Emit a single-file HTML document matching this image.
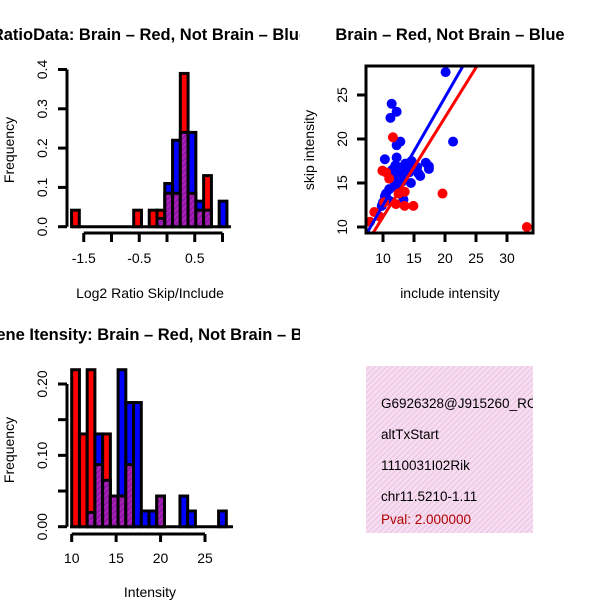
<!DOCTYPE html>
<html><head><meta charset="utf-8"><style>
html,body{margin:0;padding:0;background:#fff;}
svg{display:block;font-family:"Liberation Sans",Arial,sans-serif;}
</style></head><body>
<svg id="fig" width="600" height="600" viewBox="0 0 600 600">
<defs>
<pattern id="hatchP" width="4" height="4" patternUnits="userSpaceOnUse" patternTransform="rotate(45)">
<rect width="4" height="4" fill="#8a1a9e"/><rect width="2" height="4" fill="#b01ec0"/></pattern>
<pattern id="pinkP" width="4" height="4" patternUnits="userSpaceOnUse" patternTransform="rotate(45)">
<rect width="4" height="4" fill="#f8dcf2"/><rect width="1.2" height="4" fill="#e8c8e0"/></pattern>
<clipPath id="c1"><rect x="0" y="0" width="300" height="300"/></clipPath>
<clipPath id="c3"><rect x="0" y="300" width="300" height="300"/></clipPath>
<clipPath id="c4"><rect x="366" y="366" width="167" height="167"/></clipPath>
<clipPath id="c2"><rect x="366" y="66" width="167" height="167"/></clipPath>
</defs>
<g id="p1"></g>
<g id="p2"></g>
<g id="p3"></g>
<g id="p4">
<rect x="366" y="366" width="167" height="167" fill="url(#pinkP)"/>
<g clip-path="url(#c4)" font-size="13.5">
<text x="381" y="408">G6926328@J915260_RC</text>
<text x="381" y="439">altTxStart</text>
<text x="381" y="470">1110031I02Rik</text>
<text x="381" y="501">chr11.5210-1.11</text>
<text x="381" y="524" fill="#b00000">Pval: 2.000000</text>
</g></g>
</svg>
<script>
// ---- Histogram 1 data ----
const h1Lefts = [-1.72,-0.60,-0.32,-0.18,-0.04,0.10,0.24,0.38,0.52,0.66,0.94];
const h1Width = 0.14;
const h1Red  = [0.042,0.042,0.042,0.042,0.085,0.085,0.39,0.085,0.042,0.13,0];
const h1Blue = [0,0,0,0.021,0.11,0.22,0.24,0.24,0.065,0.042,0.065];
const h1XTicks = [-1.5,-1,-0.5,0,0.5,1];
const h1XLabels = ["-1.5","","-0.5","","0.5",""];
const h1YTicks = [0,0.1,0.2,0.3,0.4];
const h1YLabels = ["0.0","0.1","0.2","0.3","0.4"];
// ---- Scatter data ----
const scRedX = [33.2,19.6,11.6,9.9,14.9,13.5,13.5,12.1,8.6,7.9,9.4,10.2,12.5,10.5,11.0];
const scRedY = [10.0,13.8,20.2,16.4,12.4,12.4,14.0,12.6,11.7,10.6,11.2,12.8,13.8,16.2,15.5];
const scBlueX = [20.1,21.3,11.4,12.2,11.2,12.8,12.2,10.3,12.2,17.4,17.4,16.9,15.7,14.6,13.3,10.3,9.8,11.0,13.0,11.5,12.0,12.5,13.0,13.5,14.0,11.8,12.3,12.8,13.6,14.2,15.0,11.0,10.5,10.0,12.0,13.0,14.5,15.5,16.0,11.5,12.5];
const scBlueY = [27.6,19.7,24.0,23.1,22.4,19.7,19.3,17.7,17.9,16.9,16.6,17.3,16.1,17.5,13.1,13.5,12.4,14.3,15.1,15.5,16.0,16.8,16.3,17.0,16.5,15.2,14.8,15.8,17.2,16.2,17.0,13.0,13.8,12.8,17.0,15.5,15.0,16.8,15.8,16.5,14.2];
const scBlueLine = [0.22, 1.226];  // intercept, slope
const scRedLine = [-0.18, 1.132];
const scXTicks = [10,15,20,25,30];
const scYTicks = [10,15,20,25];
// ---- Histogram 2 data ----
const h2Start = 10, h2Width = 0.87;
const h2Red  = [0.22,0.13,0.22,0.087,0.13,0.043,0.043,0.087,0,0,0,0.043,0,0,0,0,0,0,0,0];
const h2Blue = [0,0,0.02,0.13,0.065,0.043,0.22,0.174,0.174,0.022,0.022,0.043,0,0,0.043,0.022,0,0,0,0.022];
const h2XTicks = [10,15,20,25];
const h2YTicks = [0,0.05,0.1,0.15,0.2];
const h2YLabels = ["0.00","","0.10","","0.20"];

const NS="http://www.w3.org/2000/svg";
const FS=14;
function mk(parent,tag,attrs){const e=document.createElementNS(NS,tag);for(const k in attrs)e.setAttribute(k,attrs[k]);parent.appendChild(e);return e;}
function txt(parent,x,y,s,attrs){const e=mk(parent,'text',Object.assign({x:x,y:y,'font-size':FS,'text-anchor':'middle'},attrs||{}));e.textContent=s;return e;}
function lin(a0,a1,p0,p1){return v=>p0+(v-a0)*(p1-p0)/(a1-a0);}

function histogram(g,lefts,width,red,blue,sx,sy,base){
  const lw=3;
  for(let i=0;i<lefts.length;i++){
    const x0=sx(lefts[i]),x1=sx(lefts[i]+width);
    const r=red[i],b=blue[i];
    if(r<=0&&b<=0){continue;}
    const hi=Math.max(r,b),lo=Math.min(r,b);
    const top=mk(g,'rect',{x:x0,y:sy(hi),width:x1-x0,height:base-sy(hi),fill:r>=b?'#ff0000':'#0000ff',stroke:'#000','stroke-width':lw});
    
    
    if(lo>0){
      const ov=mk(g,'rect',{x:x0,y:sy(lo),width:x1-x0,height:base-sy(lo),fill:'url(#hatchP)',stroke:'#000','stroke-width':lw});
      
      
    }
  }
}

// ---- Panel 1 ----
(function(){
  const g=document.getElementById('p1');
  const sx=lin(0,1,167,222.5), sy=lin(0,0.4,226.7,69.5), base=226.7;
  const bl=mk(g,'line',{x1:sx(h1Lefts[0]),y1:base,x2:sx(h1Lefts[h1Lefts.length-1]+h1Width)+4,y2:base,stroke:'#000','stroke-width':3});
  
  histogram(g,h1Lefts,h1Width,h1Red,h1Blue,sx,sy,base);
  const ax=mk(g,'g',{});
  
  mk(ax,'line',{x1:sx(h1XTicks[0]),y1:233,x2:sx(h1XTicks[h1XTicks.length-1]),y2:233,stroke:'#000','stroke-width':3});
  h1XTicks.forEach((t,i)=>{mk(ax,'line',{x1:sx(t),y1:233,x2:sx(t),y2:242,stroke:'#000','stroke-width':3});if(h1XLabels[i])txt(ax,sx(t),263,h1XLabels[i]);});
  const ay=mk(g,'g',{});
  
  mk(ay,'line',{x1:67,y1:sy(0),x2:67,y2:sy(0.4),stroke:'#000','stroke-width':3});
  h1YTicks.forEach((t,i)=>{mk(ay,'line',{x1:58,y1:sy(t),x2:67,y2:sy(t),stroke:'#000','stroke-width':3});txt(ay,0,0,h1YLabels[i],{transform:`translate(47,${sy(t)}) rotate(-90)`});});
  txt(g,150,298,'Log2 Ratio Skip/Include');
  txt(g,0,0,'Frequency',{transform:'translate(14,150) rotate(-90)'});
  const t=txt(g,150,40,'RatioData: Brain \u2013 Red, Not Brain \u2013 Blue',{'font-weight':'bold','font-size':16.5,'clip-path':'url(#c1)'});
  
})();

// ---- Panel 2 ----
(function(){
  const g=document.getElementById('p2');
  const sx=lin(10,30,383,507), sy=lin(10,25,227,95);
  const pts=mk(g,'g',{'clip-path':'url(#c2)'});
  for(let i=0;i<scBlueX.length;i++){const c=mk(pts,'circle',{cx:sx(scBlueX[i]),cy:sy(scBlueY[i]),r:5,fill:'#0000ff'});}
  for(let i=0;i<scRedX.length;i++){const c=mk(pts,'circle',{cx:sx(scRedX[i]),cy:sy(scRedY[i]),r:5,fill:'#ff0000'});}
  const xa=0,xb=40;
  const lb=mk(pts,'line',{x1:sx(xa),y1:sy(scBlueLine[0]+scBlueLine[1]*xa),x2:sx(xb),y2:sy(scBlueLine[0]+scBlueLine[1]*xb),stroke:'#0000ff','stroke-width':3});
  
  const lr=mk(pts,'line',{x1:sx(xa),y1:sy(scRedLine[0]+scRedLine[1]*xa),x2:sx(xb),y2:sy(scRedLine[0]+scRedLine[1]*xb),stroke:'#ff0000','stroke-width':3});
  
  const box=mk(g,'rect',{x:366,y:66,width:167,height:167,fill:'none',stroke:'#000','stroke-width':3});
  
  const ax=mk(g,'g',{});
  
  scXTicks.forEach(t=>{mk(ax,'line',{x1:sx(t),y1:233,x2:sx(t),y2:242,stroke:'#000','stroke-width':3});txt(ax,sx(t),263,String(t));});
  const ay=mk(g,'g',{});
  
  scYTicks.forEach(t=>{mk(ay,'line',{x1:357,y1:sy(t),x2:366,y2:sy(t),stroke:'#000','stroke-width':3});txt(ay,0,0,String(t),{transform:`translate(347,${sy(t)}) rotate(-90)`});});
  txt(g,450,298,'include intensity');
  txt(g,0,0,'skip intensity',{transform:'translate(314,150) rotate(-90)'});
  txt(g,450,40,'Brain \u2013 Red, Not Brain \u2013 Blue',{'font-weight':'bold','font-size':16.5});
})();

// ---- Panel 3 ----
(function(){
  const g=document.getElementById('p3');
  const sx=lin(10,25,71.7,205), sy=lin(0,0.2,526.7,384), base=526.7;
  mk(g,'line',{x1:70,y1:base,x2:233,y2:base,stroke:'#000','stroke-width':3});
  const lefts=h2Red.map((_,i)=>h2Start+i*h2Width);
  histogram(g,lefts,h2Width,h2Red,h2Blue,sx,sy,base);
  const ax=mk(g,'g',{});
  
  mk(ax,'line',{x1:sx(10),y1:534,x2:sx(25),y2:534,stroke:'#000','stroke-width':3});
  h2XTicks.forEach(t=>{mk(ax,'line',{x1:sx(t),y1:534,x2:sx(t),y2:542,stroke:'#000','stroke-width':3});txt(ax,sx(t),563,String(t));});
  const ay=mk(g,'g',{});
  
  mk(ay,'line',{x1:67,y1:sy(0),x2:67,y2:sy(0.2),stroke:'#000','stroke-width':3});
  h2YTicks.forEach((t,i)=>{mk(ay,'line',{x1:58,y1:sy(t),x2:67,y2:sy(t),stroke:'#000','stroke-width':3});if(h2YLabels[i])txt(ay,0,0,h2YLabels[i],{transform:`translate(47,${sy(t)}) rotate(-90)`});});
  txt(g,150,597,'Intensity');
  txt(g,0,0,'Frequency',{transform:'translate(14,450) rotate(-90)'});
  txt(g,155,340,'Gene Itensity: Brain \u2013 Red, Not Brain \u2013 Blue',{'font-weight':'bold','font-size':16.5,'clip-path':'url(#c3)'});
})();
</script>
</body></html>
